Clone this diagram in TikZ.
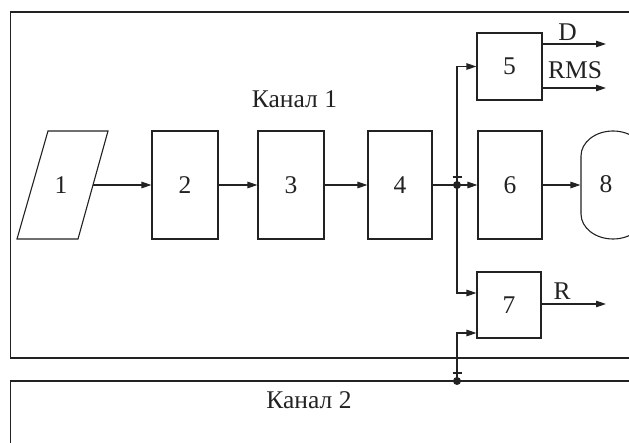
\documentclass[tikz,border=0pt]{standalone}
\usepackage{fontspec}
\setmainfont{Liberation Serif}
\usetikzlibrary{arrows.meta}
\definecolor{ink}{HTML}{222222}
\begin{document}
\begin{tikzpicture}[x=1pt,y=-1pt,
  line width=1.1pt, color=ink,
  font=\fontsize{25.5}{28}\selectfont,
  blk/.style={draw, line width=1.1pt, inner sep=0pt},
  arr/.style={-{Triangle[length=10pt,width=6.5pt]}},
  dotmark/.style={circle, fill, inner sep=0pt, minimum size=8pt},
  lbl/.style={inner sep=0pt}]
\clip (0,0) rectangle (629,443);
% channel frames
\draw[line width=1.3pt] (635,12) -- (10.5,12) -- (10.5,358) -- (635,358);
\draw[line width=1.3pt] (635,381) -- (10.5,381) -- (10.5,450);
\node[lbl] (k1) at (294.5,99) {Канал 1};
\node[lbl] (k2) at (309,400) {Канал 2};
% block 1 (parallelogram)
\draw (48,131) -- (108,131) -- (78,239) -- (17,239) -- cycle;
\node[lbl] (b1) at (61,185) {1};
\coordinate (b1out) at (93,185);
% blocks
\node[blk, minimum width=66pt, minimum height=108pt] (b2) at (185,185) {2};
\node[blk, minimum width=66pt, minimum height=108pt] (b3) at (291,185) {3};
\node[blk, minimum width=64pt, minimum height=108pt] (b4) at (400,185) {4};
\node[blk, minimum width=64pt, minimum height=108pt] (b6) at (510,185) {6};
\node[blk, minimum width=65pt, minimum height=67pt] (b5) at (509.5,66.5) {5};
\node[blk, minimum width=64pt, minimum height=66pt] (b7) at (509,305) {7};
% block 8 (terminal, rounded ends)
\node[inner sep=0pt, minimum width=64pt, minimum height=108pt] (b8) at (613,185) {};
\draw (581,156) .. controls (581,142.2) and (595.3,131) .. (613,131)
  .. controls (630.7,131) and (645,142.2) .. (645,156) -- (645,214)
  .. controls (645,227.8) and (630.7,239) .. (613,239)
  .. controls (595.3,239) and (581,227.8) .. (581,214) -- cycle;
\node[lbl] (l8) at (606,184) {8};
% junctions
\coordinate (j1) at (457,185);
\coordinate (j2) at (457,381);
\coordinate (b7in1) at ([yshift=12pt]b7.west);
\coordinate (b7in2) at ([yshift=-28pt]b7.west);
% connectors
\draw[arr] (b1out) -- (b2);
\draw[arr] (b2) -- (b3);
\draw[arr] (b3) -- (b4);
\draw[arr] (b4) -- (b6);
\draw[arr] (b6) -- (b8);
\draw[arr] (j1) |- (b5.west);
\draw[arr] (j1) |- (b7in1);
\draw[arr] (j2) |- (b7in2);
\node[dotmark] (d1) at (j1) {};
\node[dotmark] (d2) at (j2) {};
\draw (452.5,177) -- (461.5,177);
\draw (452.5,373) -- (461.5,373);
% outputs
\coordinate (oD) at (606,44);
\coordinate (oRMS) at (606,88);
\coordinate (oR) at (606,304);
\draw[arr] (b5.east |- oD) -- (oD);
\draw[arr] (b5.east |- oRMS) -- (oRMS);
\draw[arr] (b7.east |- oR) -- (oR);
\node[lbl] (tD) at (567.5,32.5) {D};
\node[lbl] (tRMS) at (575,70) {RMS};
\node[lbl] (tR) at (562,291.5) {R};
\end{tikzpicture}
\end{document}
